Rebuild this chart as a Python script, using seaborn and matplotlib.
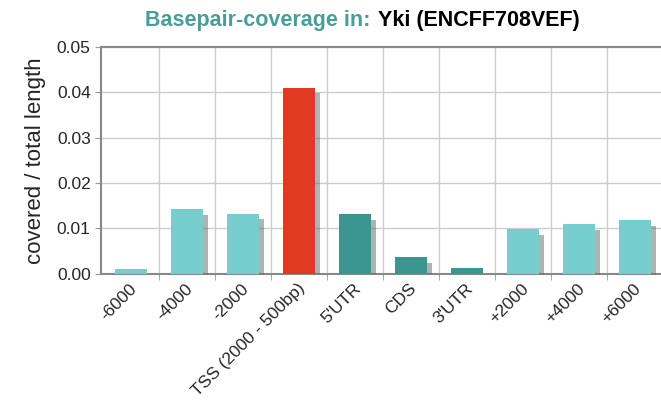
import numpy as np
import pandas as pd
import matplotlib
matplotlib.use('Agg')
import matplotlib.pyplot as plt
import matplotlib.patheffects as pe
import matplotlib.transforms as mtransforms
import seaborn as sns

# %% Data
regions = ['-6000', '-4000', '-2000', 'TSS (2000 - 500bp)', "5'UTR", 'CDS', "3'UTR",
           '+2000', '+4000', '+6000']
coverage = [0.0010, 0.0142, 0.0133, 0.0410, 0.0132, 0.0037, 0.0012, 0.0098, 0.0110, 0.0118]
group = ['flank', 'flank', 'flank', 'tss', 'gene', 'gene', 'gene', 'flank', 'flank', 'flank']
yticks = [0.00, 0.01, 0.02, 0.03, 0.04, 0.05]

palette = {'flank': '#76cdcd', 'tss': '#e03a22', 'gene': '#3a968f'}

df = pd.DataFrame({'region': regions, 'coverage': coverage, 'group': group})

# %% Plot
sns.set_style('white')
plt.rcParams['font.family'] = ['Liberation Sans', 'DejaVu Sans']

fig = plt.figure(figsize=(6.61, 4.07), dpi=100)
ax = fig.add_axes([0.153, 0.327, 0.85, 0.558])

sns.barplot(data=df, x='region', y='coverage', hue='group', palette=palette,
            width=0.57, dodge=False, legend=False, saturation=1, linewidth=0,
            ax=ax, zorder=3)
for p in ax.patches:
    p.set_path_effects([pe.withSimplePatchShadow(offset=(4, -4), shadow_rgbFace='#666666',
                                                 alpha=0.5)])

ax.set_xlim(-0.53, 9.5)
ax.set_ylim(0, 0.05)
ax.set_yticks(yticks)
ax.set_yticklabels([f"{t:.2f}" for t in yticks], fontsize=12.5)
ax.set_xticks(range(len(regions)))
ax.set_xticklabels(regions, rotation=45, ha='right', rotation_mode='anchor', fontsize=12.5)
ax.set_xticks(np.arange(0.5, len(regions) - 0.5, 1), minor=True)
ax.tick_params(axis='x', which='major', length=0, pad=5)
ax.tick_params(axis='x', which='minor', length=4, color='#999999', direction='out')
ax.tick_params(axis='y', length=4, color='#999999', direction='out', left=True)
ax.xaxis.set_tick_params(which='minor', bottom=True)

# small nudge of the rotated labels
shift = mtransforms.ScaledTranslation(-2 / 100, 0, fig.dpi_scale_trans)
for lbl in ax.get_xticklabels():
    lbl.set_transform(lbl.get_transform() + shift)

ax.grid(axis='y', color='#cccccc', linewidth=1, zorder=0)
ax.grid(axis='x', which='minor', color='#cccccc', linewidth=1, zorder=0)
ax.set_axisbelow(True)
for s in ['left', 'bottom', 'top']:
    ax.spines[s].set_color('#888888')
    ax.spines[s].set_linewidth(1.5)
ax.spines['right'].set_visible(False)

ax.set_xlabel('')
ax.set_ylabel('covered / total length', fontsize=16, labelpad=8)

fig.text(0.56, 0.95, 'Basepair-coverage in:', color='#4a9e99', fontsize=15.5,
         fontweight='bold', ha='right', va='center')
fig.text(0.572, 0.95, 'Yki (ENCFF708VEF)', color='black', fontsize=15.5,
         fontweight='bold', ha='left', va='center')

fig.savefig('out.png', dpi=100)
